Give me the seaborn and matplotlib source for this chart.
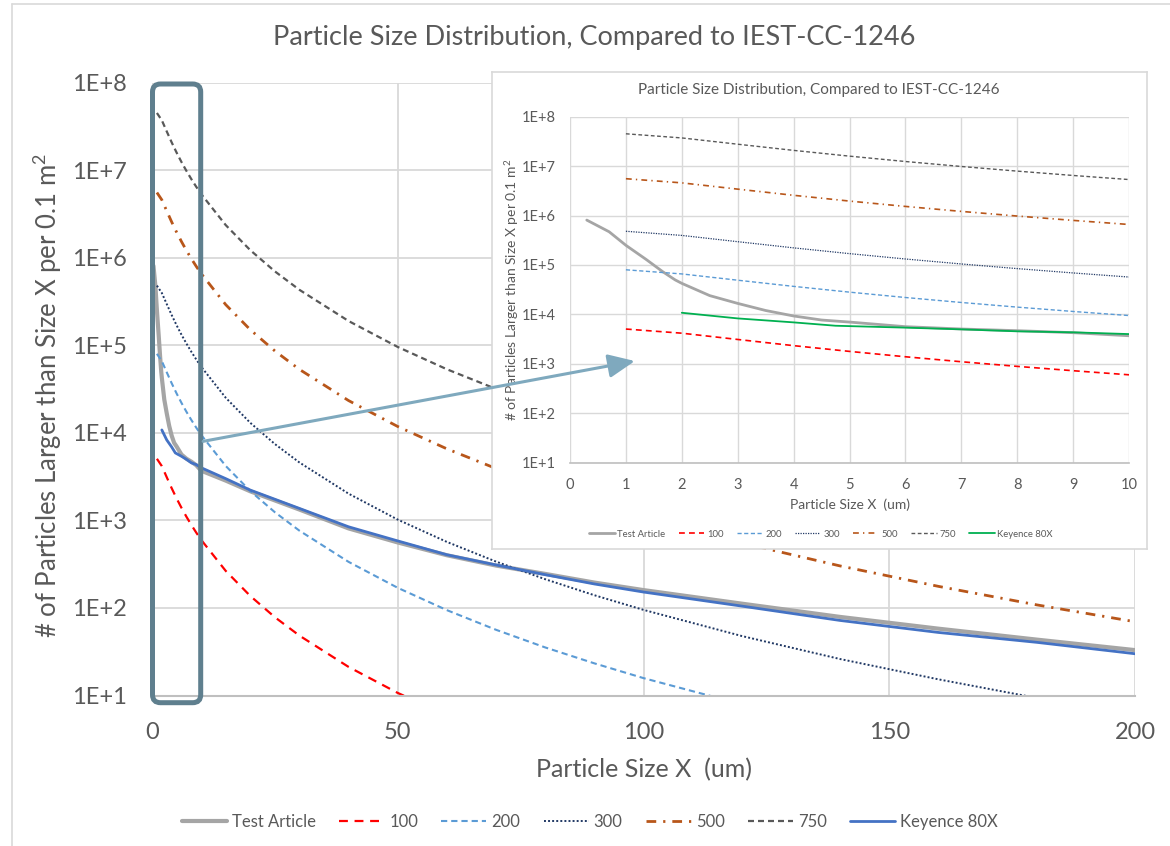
import numpy as np
import pandas as pd
import matplotlib
matplotlib.use("Agg")
import matplotlib.pyplot as plt
import seaborn as sns
from matplotlib.patches import FancyBboxPatch, ConnectionPatch
from matplotlib.lines import Line2D
from matplotlib.transforms import IdentityTransform
from matplotlib.ticker import FixedLocator, FuncFormatter, MultipleLocator, NullLocator

# ---------------- data ----------------
title = "Particle Size Distribution, Compared to IEST-CC-1246"
x_label = "Particle Size X  (um)"
y_label = "# of Particles Larger than Size X per 0.1 m$^2$"

test_x = [0.3, 0.7, 1.0, 1.36, 1.66, 1.88, 2.0, 2.5, 3.0, 3.5, 4.0, 4.5, 5.0, 6.0, 7.0, 8.0, 9.0, 10.0,
          15, 20, 30, 40, 50, 60, 70, 80, 90, 100, 120, 140, 160, 180, 200]
test_y = [8.1e5, 4.7e5, 2.5e5, 1.3e5, 7.3e4, 5.0e4, 4.25e4, 2.4e4, 1.67e4, 1.2e4, 9.3e3, 7.7e3, 7.0e3,
          5.65e3, 5.07e3, 4.69e3, 4.27e3, 3.7e3,
          2.85e3, 2.15e3, 1.33e3, 810, 560, 400, 305, 245, 195, 160, 112, 79, 58, 43.5, 33]

keyence_x = [2, 3, 4, 4.75, 6, 7, 8, 9, 10, 15, 20, 30, 40, 50, 60, 70, 80, 90, 100, 120, 140, 160, 180, 200]
keyence_y = [1.08e4, 8.3e3, 6.9e3, 5.9e3, 5.4e3, 4.99e3, 4.55e3, 4.34e3, 4.0e3, 3.0e3, 2.22e3, 1.37e3,
             845, 583, 405, 310, 240, 188, 152, 105, 72, 52.5, 40.5, 30]

iest_x = [1, 2, 3, 4, 5, 6, 7, 8, 9, 10, 15, 20, 25, 30, 40, 50, 60, 70, 80, 90, 100, 120, 140, 160, 180, 200]
iest_100 = [5058, 4170, 3113, 2335, 1785, 1391, 1103, 889, 726, 600, 265, 137, 78.4, 48.3, 21.2, 10.7, 5.97]
iest_200 = [79940, 65920, 49220, 36920, 28220, 21990, 17440, 14050, 11475, 9483, 4189, 2165, 1240, 763,
            336, 169.8, 94.4, 56.3, 35.4, 23.3, 15.8, 7.94]
iest_300 = [480900, 396400, 296000, 222000, 169700, 132200, 104900, 84500, 69000, 57020, 25190, 13020,
            7455, 4588, 2020, 1021, 568, 338.5, 213, 139.8, 95.1, 47.8, 26.1, 15.3, 9.38, 6.01]
iest_500 = [5564000, 4587000, 3425000, 2569000, 1963000, 1530000, 1214000, 977600, 798300, 659800,
            291400, 150600, 86250, 53080, 23370, 11820, 6570, 3917, 2464, 1618, 1100, 552, 302, 176.5,
            108.5, 69.6]
iest_750 = [45110000, 37190000, 27760000, 20830000, 15920000, 12400000, 9839000, 7926000, 6473000,
            5349000, 2363000, 1221000, 699300, 430400, 189500, 95800, 53260, 31760, 19980, 13120, 8918,
            4479, 2450, 1431, 880, 564]

series_names = ["Test Article", "100", "200", "300", "500", "750", "Keyence 80X"]

# ---------------- styles ----------------
C_TEXT = "#595959"
C_GRID = "#D9D9D9"
C_AXIS = "#BFBFBF"

styles = {
    "Test Article": dict(color="#A5A5A5", lw=3.0, ls="-"),
    "100": dict(color="#FF0000", lw=1.6, ls=(0, (4, 3))),
    "200": dict(color="#5B9BD5", lw=1.5, ls=(0, (3, 1.9))),
    "300": dict(color="#203864", lw=1.4, ls=(0, (1, 1.1))),
    "500": dict(color="#B8561A", lw=2.0, ls=(0, (3.5, 2.5, 0.8, 2.5))),
    "750": dict(color="#595959", lw=1.6, ls=(0, (2.7, 1.8))),
    "Keyence 80X": dict(color="#4472C4", lw=2.0, ls="-"),
}

frames = {
    "Test Article": pd.DataFrame({"x": test_x, "y": test_y}),
    "100": pd.DataFrame({"x": iest_x[:len(iest_100)], "y": iest_100}),
    "200": pd.DataFrame({"x": iest_x[:len(iest_200)], "y": iest_200}),
    "300": pd.DataFrame({"x": iest_x[:len(iest_300)], "y": iest_300}),
    "500": pd.DataFrame({"x": iest_x[:len(iest_500)], "y": iest_500}),
    "750": pd.DataFrame({"x": iest_x[:len(iest_750)], "y": iest_750}),
    "Keyence 80X": pd.DataFrame({"x": keyence_x, "y": keyence_y}),
}

# ---------------- theme ----------------
sns.set_theme(style="white")
plt.rcParams["font.family"] = ["Lato", "DejaVu Sans"]
plt.rcParams["mathtext.default"] = "regular"

W, H = 1170, 846
fig = plt.figure(figsize=(W / 100, H / 100), dpi=100)
fig.patch.set_facecolor("white")


def fx(px):
    return px / W


def fy(py):
    return 1 - py / H


decade_fmt = FuncFormatter(lambda v, p: "1E+%d" % int(round(np.log10(v))))

# ---------------- main axes ----------------
ax = fig.add_axes([fx(152), fy(695.5), (1135 - 152) / W, (695.5 - 82.7) / H], zorder=0)
for name in series_names:
    st = styles[name]
    sns.lineplot(data=frames[name], x="x", y="y", ax=ax, color=st["color"], linewidth=st["lw"],
                 linestyle=st["ls"], label=name, sort=False, estimator=None)

ax.set_yscale("log")
ax.set_xlim(0, 200)
ax.set_ylim(10, 1e8)
ax.xaxis.set_major_locator(FixedLocator([0, 50, 100, 150, 200]))
ax.xaxis.set_minor_locator(MultipleLocator(10))
ax.yaxis.set_major_locator(FixedLocator([10.0 ** k for k in range(1, 9)]))
ax.yaxis.set_minor_locator(NullLocator())
ax.yaxis.set_major_formatter(decade_fmt)
ax.grid(True, which="major", color=C_GRID, lw=1.3)
ax.set_axisbelow(True)
for s in ["top", "right", "left"]:
    ax.spines[s].set_visible(False)
ax.spines["bottom"].set_color(C_AXIS)
ax.spines["bottom"].set_linewidth(1.5)
ax.tick_params(axis="y", length=0, pad=18, labelsize=17, labelcolor=C_TEXT)
ax.tick_params(axis="x", which="major", direction="out", length=5, width=1.2, color=C_GRID,
               pad=14, labelsize=17, labelcolor=C_TEXT)
ax.tick_params(axis="x", which="minor", direction="in", length=5, width=1.2, color=C_AXIS)
ax.set_xlabel(x_label, fontsize=18, color=C_TEXT)
ax.set_ylabel(y_label, fontsize=18.5, color=C_TEXT)
ax.xaxis.label.set_va("center")
ax.xaxis.set_label_coords(0.5, (695.5 - 770) / 612.8)
ax.yaxis.set_label_coords((64 - 152) / 983, 0.49)

handles, labels = ax.get_legend_handles_labels()
ax.legend(handles, labels, loc="center", bbox_to_anchor=(fx(590), fy(822)),
          bbox_transform=fig.transFigure, ncol=7, frameon=False, fontsize=12,
          handlelength=2.7, columnspacing=1.4, handletextpad=0.3, labelcolor=C_TEXT)

# ---------------- inset chart area ----------------
bg = fig.add_axes([fx(492), fy(549), (1147 - 492) / W, (549 - 72) / H], zorder=1)
bg.set_xticks([])
bg.set_yticks([])
bg.set_facecolor("white")
for s in bg.spines.values():
    s.set_color(C_GRID)
    s.set_linewidth(1.2)

axin = fig.add_axes([fx(570), fy(462.7), (1129 - 570) / W, (462.7 - 116.7) / H], zorder=2)
axin.set_facecolor("none")
inset_styles = {
    "Test Article": dict(color="#A5A5A5", lw=2.0, ls="-"),
    "100": dict(color="#FF0000", lw=1.2, ls=(0, (3.5, 2.5))),
    "200": dict(color="#5B9BD5", lw=1.0, ls=(0, (3, 1.8))),
    "300": dict(color="#203864", lw=0.9, ls=(0, (1, 1))),
    "500": dict(color="#B8561A", lw=1.2, ls=(0, (3.5, 2.5, 0.8, 2.5))),
    "750": dict(color="#595959", lw=1.0, ls=(0, (2.7, 1.8))),
    "Keyence 80X": dict(color="#00B050", lw=1.3, ls="-"),
}
for name in series_names:
    st = inset_styles[name]
    d = frames[name]
    d = d[d["x"] <= 10]
    sns.lineplot(data=d, x="x", y="y", ax=axin, color=st["color"], linewidth=st["lw"],
                 linestyle=st["ls"], label=name, sort=False, estimator=None)
axin.set_yscale("log")
axin.set_xlim(0, 10)
axin.set_ylim(10, 1e8)
axin.xaxis.set_major_locator(MultipleLocator(1))
axin.yaxis.set_major_locator(FixedLocator([10.0 ** k for k in range(1, 9)]))
axin.yaxis.set_minor_locator(NullLocator())
axin.yaxis.set_major_formatter(decade_fmt)
axin.grid(True, which="major", color=C_GRID, lw=1.0)
axin.set_axisbelow(True)
for s in ["top", "right", "left"]:
    axin.spines[s].set_visible(False)
axin.spines["bottom"].set_color(C_AXIS)
axin.spines["bottom"].set_linewidth(1.2)
axin.tick_params(axis="y", length=0, pad=10, labelsize=10.5, labelcolor=C_TEXT)
axin.tick_params(axis="x", length=3, width=1.0, color=C_GRID, pad=8, labelsize=10.5, labelcolor=C_TEXT)
axin.set_xlabel(x_label, fontsize=10, color=C_TEXT)
axin.set_ylabel(y_label, fontsize=10, color=C_TEXT)
axin.xaxis.label.set_va("center")
axin.xaxis.set_label_coords(0.5, (462.7 - 505) / 346)
axin.yaxis.set_label_coords((521 - 570) / 559, 0.5)
h2, l2 = axin.get_legend_handles_labels()
axin.legend(h2, l2, loc="center", bbox_to_anchor=(fx(821), fy(534)), bbox_transform=fig.transFigure,
            ncol=7, frameon=False, fontsize=6.8, handlelength=2.7, columnspacing=1.4,
            handletextpad=0.3, labelcolor=C_TEXT)

# ---------------- titles ----------------
fig.text(fx(594), fy(38), title, ha="center", va="center", fontsize=19.5, color=C_TEXT, zorder=5)
fig.text(fx(819), fy(90), title, ha="center", va="center", fontsize=11, color=C_TEXT, zorder=5)

# ---------------- outer chart border ----------------
fig.add_artist(Line2D([fx(12), 1.0], [fy(4), fy(4)], transform=fig.transFigure, color=C_GRID, lw=1.2))
fig.add_artist(Line2D([fx(12), fx(12)], [fy(4), 0.0], transform=fig.transFigure, color=C_GRID, lw=1.2))

# ---------------- highlight box and arrow ----------------
rect = FancyBboxPatch((152.5, H - 702.7), 48.2, 618.7, boxstyle="round,pad=0,rounding_size=8",
                      transform=IdentityTransform(), fill=False, ec="#5F7F8E", lw=3.6, zorder=6)
fig.add_artist(rect)

con = ConnectionPatch(xyA=(10.4, 8000), coordsA=ax.transData, xyB=(1.16, 1140), coordsB=axin.transData,
                      arrowstyle="-|>,head_length=0.9,head_width=0.4", mutation_scale=18, lw=2.2,
                      color="#7FA9BE", shrinkA=0, shrinkB=0, zorder=7)
fig.add_artist(con)

fig.savefig("out.png", dpi=100, facecolor="white")
